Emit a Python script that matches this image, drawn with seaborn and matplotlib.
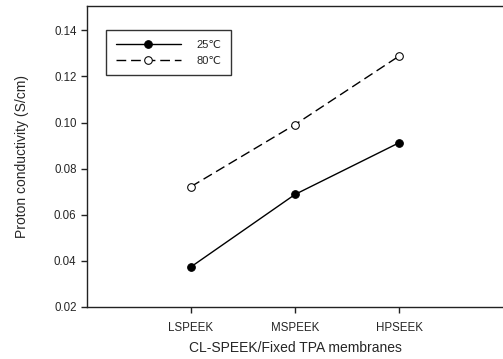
import matplotlib
matplotlib.use("Agg")
import matplotlib.pyplot as plt
import seaborn as sns
import pandas as pd

membranes = ["LSPEEK", "MSPEEK", "HPSEEK"]
cond_25 = [0.0374, 0.0688, 0.0912]
cond_80 = [0.0722, 0.0991, 0.1288]

sns.set_style("white")
plt.rcParams['font.family'] = ['Liberation Sans', 'DejaVu Sans']

df = pd.DataFrame({"pos": [1, 2, 3], "c25": cond_25, "c80": cond_80})

fig = plt.figure(figsize=(5.03, 3.59), dpi=100)
ax = fig.add_axes([0.173, 0.145, 0.827, 0.838])

sns.lineplot(ax=ax, x="pos", y="c25", data=df, color="black", lw=1,
             marker="o", markersize=5.5, markerfacecolor="black",
             markeredgecolor="black", label="25\u2103")
sns.lineplot(ax=ax, x="pos", y="c80", data=df, color="black", lw=1,
             linestyle=(0, (7, 3.5)), marker="o", markersize=5.5,
             markerfacecolor="white", markeredgecolor="black", label="80\u2103")

ax.set_xlim(0, 4)
ax.set_ylim(0.02, 0.1505)
ax.set_xticks([1, 2, 3])
ax.set_xticklabels(membranes)
ax.set_yticks([0.02, 0.04, 0.06, 0.08, 0.10, 0.12, 0.14])
ax.set_yticklabels([f"{v:.2f}" for v in [0.02, 0.04, 0.06, 0.08, 0.10, 0.12, 0.14]])
ax.tick_params(axis="both", direction="out", length=4, width=1, labelsize=8.3,
               left=True, bottom=True, color="#222222")
ax.tick_params(axis="x", pad=7)
ax.set_xlabel("CL-SPEEK/Fixed TPA membranes", fontsize=10, labelpad=5)
ax.set_ylabel("Proton conductivity (S/cm)", fontsize=10, labelpad=18)

for s in ["left", "bottom", "top"]:
    ax.spines[s].set_color("#222222")
    ax.spines[s].set_linewidth(1)
ax.spines["right"].set_visible(False)

leg = ax.legend(loc="upper left", bbox_to_anchor=(0.046, 0.92), fontsize=8,
                frameon=True, fancybox=False, handlelength=5.9, borderpad=0.85,
                labelspacing=0.55, handletextpad=1.4, borderaxespad=0)
leg.get_frame().set_edgecolor("black")
leg.get_frame().set_linewidth(1)

fig.savefig("out.png", dpi=100)
